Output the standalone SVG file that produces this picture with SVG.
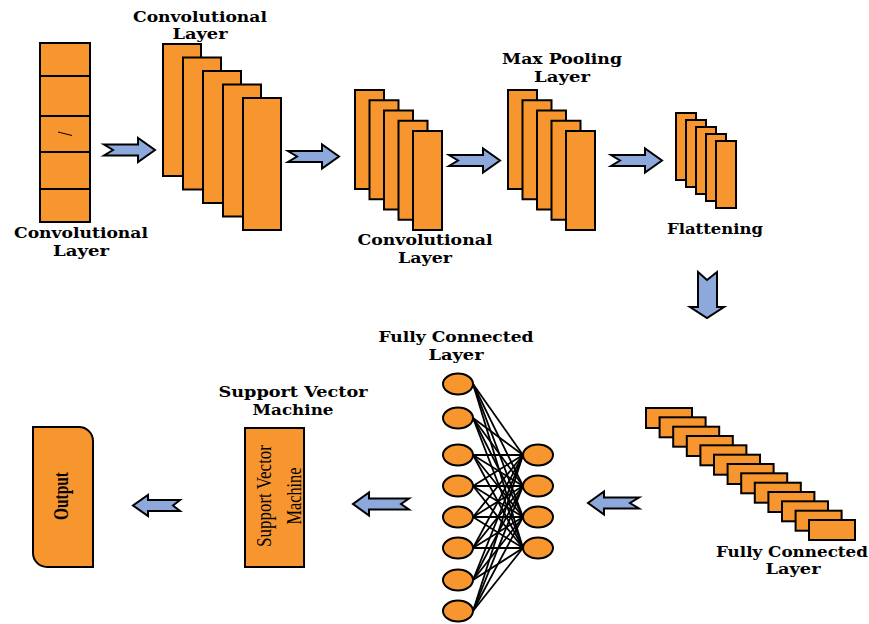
<svg xmlns="http://www.w3.org/2000/svg" width="869" height="624" viewBox="0 0 869 624">
<style>
.b{fill:#F7962F;stroke:#000;stroke-width:2}
.ar{fill:#8DA9DB;stroke:#000;stroke-width:2;stroke-linejoin:miter}
.lbl{font-family:"DejaVu Serif","Liberation Serif",serif;font-weight:bold;font-size:15px;fill:#000;text-anchor:middle}
.in{font-family:"Liberation Serif","Times New Roman",serif;fill:#000;text-anchor:middle}
.nn line{stroke:#000;stroke-width:1.8}
.nn ellipse{fill:#F7962F;stroke:#000;stroke-width:2}
</style>
<rect width="869" height="624" fill="#fff"/>

<g id="input-layer">
<rect class="b" x="40" y="43" width="50" height="179"/>
<line x1="40" y1="76" x2="90" y2="76" stroke="#000" stroke-width="2"/>
<line x1="40" y1="116" x2="90" y2="116" stroke="#000" stroke-width="2"/>
<line x1="40" y1="152" x2="90" y2="152" stroke="#000" stroke-width="2"/>
<line x1="40" y1="189" x2="90" y2="189" stroke="#000" stroke-width="2"/>
<line x1="58" y1="132" x2="72" y2="135.5" stroke="#000" stroke-width="1"/>
<text class="lbl" x="81" y="238" textLength="134" lengthAdjust="spacingAndGlyphs">Convolutional</text>
<text class="lbl" x="81" y="256" textLength="56" lengthAdjust="spacingAndGlyphs">Layer</text>
</g>

<g id="conv-layer-1">
<rect class="b" x="163" y="44" width="38" height="132"/>
<rect class="b" x="183" y="57.5" width="38" height="132"/>
<rect class="b" x="203" y="71" width="38" height="132"/>
<rect class="b" x="223" y="84.5" width="38" height="132"/>
<rect class="b" x="243" y="98" width="38" height="132"/>
<text class="lbl" x="200" y="22" textLength="134" lengthAdjust="spacingAndGlyphs">Convolutional</text>
<text class="lbl" x="200" y="39" textLength="55" lengthAdjust="spacingAndGlyphs">Layer</text>
</g>

<g id="conv-layer-2">
<rect class="b" x="355" y="90" width="29" height="99"/>
<rect class="b" x="369.5" y="100.25" width="29" height="99"/>
<rect class="b" x="384" y="110.5" width="29" height="99"/>
<rect class="b" x="398.5" y="120.75" width="29" height="99"/>
<rect class="b" x="413" y="131" width="29" height="99"/>
<text class="lbl" x="425" y="245" textLength="135" lengthAdjust="spacingAndGlyphs">Convolutional</text>
<text class="lbl" x="425" y="263" textLength="54" lengthAdjust="spacingAndGlyphs">Layer</text>
</g>

<g id="max-pooling">
<rect class="b" x="508" y="90" width="29" height="99"/>
<rect class="b" x="522.5" y="100.25" width="29" height="99"/>
<rect class="b" x="537" y="110.5" width="29" height="99"/>
<rect class="b" x="551.5" y="120.75" width="29" height="99"/>
<rect class="b" x="566" y="131" width="29" height="99"/>
<text class="lbl" x="562" y="64" textLength="120" lengthAdjust="spacingAndGlyphs">Max Pooling</text>
<text class="lbl" x="562" y="82" textLength="56" lengthAdjust="spacingAndGlyphs">Layer</text>
</g>

<g id="flattening">
<rect class="b" x="676" y="113" width="20" height="67"/>
<rect class="b" x="686" y="120" width="20" height="67"/>
<rect class="b" x="696" y="127" width="20" height="67"/>
<rect class="b" x="706" y="134" width="20" height="67"/>
<rect class="b" x="716" y="141" width="20" height="67"/>
<text class="lbl" x="715" y="234" textLength="96" lengthAdjust="spacingAndGlyphs">Flattening</text>
</g>

<g id="fc-stack">
<rect class="b" x="646" y="408" width="46" height="20"/>
<rect class="b" x="659.6" y="417.3" width="46" height="20"/>
<rect class="b" x="673.2" y="426.7" width="46" height="20"/>
<rect class="b" x="686.8" y="436" width="46" height="20"/>
<rect class="b" x="700.4" y="445.3" width="46" height="20"/>
<rect class="b" x="714" y="454.7" width="46" height="20"/>
<rect class="b" x="727.6" y="464" width="46" height="20"/>
<rect class="b" x="741.2" y="473.3" width="46" height="20"/>
<rect class="b" x="754.8" y="482.7" width="46" height="20"/>
<rect class="b" x="768.4" y="492" width="46" height="20"/>
<rect class="b" x="782" y="501.3" width="46" height="20"/>
<rect class="b" x="795.6" y="510.7" width="46" height="20"/>
<rect class="b" x="809" y="520" width="46" height="20"/>
<text class="lbl" x="792" y="557" textLength="152" lengthAdjust="spacingAndGlyphs">Fully Connected</text>
<text class="lbl" x="793" y="574" textLength="55" lengthAdjust="spacingAndGlyphs">Layer</text>
</g>

<g id="fc-network" class="nn">
<g>
<line x1="473" y1="384" x2="523" y2="455"/><line x1="473" y1="384" x2="523" y2="486"/><line x1="473" y1="384" x2="523" y2="517"/><line x1="473" y1="384" x2="523" y2="548"/>
<line x1="473" y1="418" x2="523" y2="455"/><line x1="473" y1="418" x2="523" y2="486"/><line x1="473" y1="418" x2="523" y2="517"/><line x1="473" y1="418" x2="523" y2="548"/>
<line x1="473" y1="455" x2="523" y2="455"/><line x1="473" y1="455" x2="523" y2="486"/><line x1="473" y1="455" x2="523" y2="517"/><line x1="473" y1="455" x2="523" y2="548"/>
<line x1="473" y1="486" x2="523" y2="455"/><line x1="473" y1="486" x2="523" y2="486"/><line x1="473" y1="486" x2="523" y2="517"/><line x1="473" y1="486" x2="523" y2="548"/>
<line x1="473" y1="517" x2="523" y2="455"/><line x1="473" y1="517" x2="523" y2="486"/><line x1="473" y1="517" x2="523" y2="517"/><line x1="473" y1="517" x2="523" y2="548"/>
<line x1="473" y1="548" x2="523" y2="455"/><line x1="473" y1="548" x2="523" y2="486"/><line x1="473" y1="548" x2="523" y2="517"/><line x1="473" y1="548" x2="523" y2="548"/>
<line x1="473" y1="580" x2="523" y2="455"/><line x1="473" y1="580" x2="523" y2="486"/><line x1="473" y1="580" x2="523" y2="517"/><line x1="473" y1="580" x2="523" y2="548"/>
<line x1="473" y1="611" x2="523" y2="455"/><line x1="473" y1="611" x2="523" y2="486"/><line x1="473" y1="611" x2="523" y2="517"/><line x1="473" y1="611" x2="523" y2="548"/>
</g>
<ellipse cx="458" cy="384" rx="15" ry="10.5"/>
<ellipse cx="458" cy="418" rx="15" ry="10.5"/>
<ellipse cx="458" cy="455" rx="15" ry="10.5"/>
<ellipse cx="458" cy="486" rx="15" ry="10.5"/>
<ellipse cx="458" cy="517" rx="15" ry="10.5"/>
<ellipse cx="458" cy="548" rx="15" ry="10.5"/>
<ellipse cx="458" cy="580" rx="15" ry="10.5"/>
<ellipse cx="458" cy="611" rx="15" ry="10.5"/>
<ellipse cx="538" cy="455" rx="15" ry="10.5"/>
<ellipse cx="538" cy="486" rx="15" ry="10.5"/>
<ellipse cx="538" cy="517" rx="15" ry="10.5"/>
<ellipse cx="538" cy="548" rx="15" ry="10.5"/>
<text class="lbl" x="456" y="342" textLength="155" lengthAdjust="spacingAndGlyphs">Fully Connected</text>
<text class="lbl" x="456" y="360" textLength="55" lengthAdjust="spacingAndGlyphs">Layer</text>
</g>

<g id="svm">
<rect class="b" x="245" y="428" width="59" height="139"/>
<text class="in" font-size="20" transform="translate(271,496) rotate(-90)" textLength="102" lengthAdjust="spacingAndGlyphs">Support Vector</text>
<text class="in" font-size="20" transform="translate(301,496) rotate(-90)" textLength="57" lengthAdjust="spacingAndGlyphs">Machine</text>
<text class="lbl" x="293" y="397" textLength="149" lengthAdjust="spacingAndGlyphs">Support Vector</text>
<text class="lbl" x="293" y="415" textLength="81" lengthAdjust="spacingAndGlyphs">Machine</text>
</g>

<g id="output">
<path class="b" d="M33,427 H79 A14,14 0 0 1 93,441 V567 H47 A14,14 0 0 1 33,553 Z"/>
<text class="in" font-size="20" font-weight="bold" transform="translate(68,496) rotate(-90)" textLength="48" lengthAdjust="spacingAndGlyphs">Output</text>
</g>

<g id="connectors">
<path class="ar" d="M104,144.5 L138,144.5 L138,138 L155,150 L138,162 L138,155.5 L104,155.5 L113,150 Z"/>
<path class="ar" d="M288,151 L322,151 L322,144.5 L339,156.5 L322,168.5 L322,162 L288,162 L297,156.5 Z"/>
<path class="ar" d="M449,155 L483,155 L483,148.5 L500,160.5 L483,172.5 L483,166 L449,166 L458,160.5 Z"/>
<path class="ar" d="M611,155 L645,155 L645,148.5 L662,160.5 L645,172.5 L645,166 L611,166 L620,160.5 Z"/>
<path class="ar" d="M698,272 L707,280 L717,272 L717,307 L724,307 L707,318 L690,307 L698,307 Z"/>
<path class="ar" d="M639,497.5 L604,497.5 L604,491.5 L588,503 L604,514.5 L604,508.5 L639,508.5 L630,503 Z"/>
<path class="ar" d="M409,498.5 L369,498.5 L369,492.5 L353,504 L369,515.5 L369,509.5 L409,509.5 L401,504 Z"/>
<path class="ar" d="M180,500 L148,500 L148,495 L133,505.5 L148,516 L148,511 L180,511 L173,505.5 Z"/>
</g>
</svg>
